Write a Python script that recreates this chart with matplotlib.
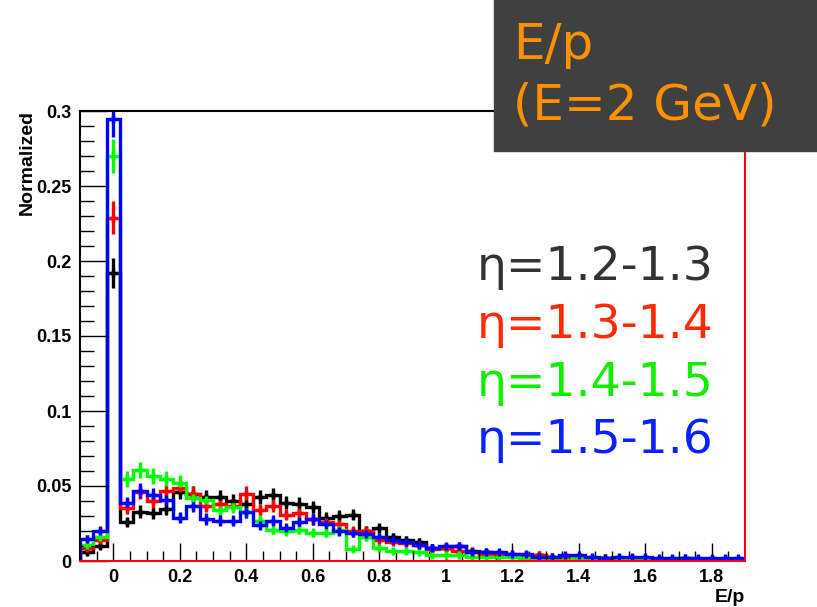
import numpy as np
import matplotlib
matplotlib.use('Agg')
from matplotlib import pyplot as plt
from matplotlib.patches import Rectangle

# bin edges of the E/p histograms (50 bins, -0.1 .. 1.9)
edges = np.linspace(-0.1, 1.9, 51)

black = [0.006, 0.010, 0.192, 0.026, 0.033, 0.032, 0.035, 0.046, 0.045, 0.043,
         0.0425, 0.040, 0.038, 0.0425, 0.044, 0.039, 0.038, 0.036, 0.029, 0.030,
         0.031, 0.020, 0.022, 0.016, 0.014, 0.013, 0.009, 0.009, 0.010, 0.007,
         0.006, 0.005, 0.004, 0.003, 0.004, 0.003, 0.002, 0.003, 0.002, 0.002,
         0.002, 0.002, 0.001, 0.001, 0.001, 0.002, 0.001, 0.001, 0.001, 0.000]

red = [0.009, 0.014, 0.229, 0.0356, 0.046, 0.040, 0.047, 0.0487, 0.045, 0.037,
       0.038, 0.037, 0.045, 0.034, 0.037, 0.031, 0.032, 0.028, 0.026, 0.025,
       0.020, 0.020, 0.014, 0.013, 0.012, 0.011, 0.008, 0.009, 0.007, 0.006,
       0.005, 0.005, 0.005, 0.004, 0.004, 0.002, 0.002, 0.003, 0.002, 0.002,
       0.001, 0.002, 0.001, 0.001, 0.001, 0.001, 0.001, 0.001, 0.001, 0.001]

green = [0.011, 0.016, 0.270, 0.0545, 0.0607, 0.0567, 0.055, 0.052, 0.042, 0.041,
         0.034, 0.036, 0.033, 0.027, 0.021, 0.020, 0.021, 0.019, 0.019, 0.021,
         0.008, 0.016, 0.009, 0.007, 0.007, 0.006, 0.004, 0.004, 0.004, 0.003,
         0.003, 0.003, 0.003, 0.002, 0.001, 0.002, 0.001, 0.002, 0.001, 0.001,
         0.001, 0.001, 0.002, 0.001, 0.001, 0.001, 0.000, 0.001, 0.000, 0.001]

blue = [0.0145, 0.020, 0.2945, 0.0385, 0.047, 0.044, 0.041, 0.029, 0.037, 0.028,
        0.027, 0.027, 0.033, 0.024, 0.027, 0.022, 0.026, 0.028, 0.025, 0.020,
        0.019, 0.018, 0.016, 0.014, 0.013, 0.011, 0.009, 0.010, 0.010, 0.006,
        0.006, 0.006, 0.005, 0.005, 0.003, 0.003, 0.004, 0.004, 0.003, 0.002,
        0.003, 0.003, 0.003, 0.002, 0.002, 0.002, 0.002, 0.002, 0.002, 0.002]

labels = ['\u03b7=1.2-1.3', '\u03b7=1.3-1.4', '\u03b7=1.4-1.5', '\u03b7=1.5-1.6']
n_events = 2000  # per sample, for the statistical error bars

series = [black, red, green, blue]
colours = ['black', '#ff0000', '#00ff00', '#0000ff']
text_colours = ['#333333', '#ff2a00', '#11ee00', '#0a22ff']

centers = 0.5 * (edges[:-1] + edges[1:])

fig = plt.figure(figsize=(8.17, 6.07), dpi=100)
ax = fig.add_axes([80/817, 1-561/607, 665/817, 450/607])

for vals, col in zip(series, colours):
    v = np.array(vals)
    ax.stairs(v, edges, color=col, linewidth=2.4, baseline=0)
    m = v > 0
    ax.errorbar(centers[m], v[m], yerr=np.sqrt(v[m] / n_events), fmt='+',
                color=col, ms=6, mew=2.4, elinewidth=2.4, capsize=0)

ax.set(xlim=(-0.1, 1.9), ylim=(0, 0.3))

ax.spines['top'].set_color('black')
ax.spines['left'].set_color('black')
ax.spines['right'].set_color('#ff0000')
ax.spines['bottom'].set_color('#ff0000')
for s in ax.spines.values():
    s.set_linewidth(1.5)

ax.set_xticks(np.arange(0, 1.81, 0.2))
ax.set_xticklabels(['0', '0.2', '0.4', '0.6', '0.8', '1', '1.2', '1.4', '1.6', '1.8'])
ax.set_xticks(np.arange(-0.05, 1.9, 0.05), minor=True)
ax.set_yticks(np.arange(0, 0.31, 0.05))
ax.set_yticklabels(['0', '0.05', '0.1', '0.15', '0.2', '0.25', '0.3'])
ax.set_yticks(np.arange(0, 0.301, 0.01), minor=True)

ax.tick_params(which='both', direction='in', top=False, right=False, width=1)
ax.tick_params(axis='x', which='major', length=13, pad=6)
ax.tick_params(axis='x', which='minor', length=7)
ax.tick_params(axis='y', which='major', length=20, pad=6)
ax.tick_params(axis='y', which='minor', length=10)
for lab in ax.get_xticklabels() + ax.get_yticklabels():
    lab.set_fontfamily('Liberation Sans')
    lab.set_fontweight('bold')
    lab.set_fontsize(13)

fig.text(27/817, 1-110/607, 'Normalized', rotation=90, ha='center', va='top',
         fontsize=14, fontweight='bold', family='Liberation Sans')
fig.text(745/817, 1-598/607, 'E/p', ha='right', va='center',
         fontsize=14, fontweight='bold', family='Liberation Sans')

# eta labels
for i, (lab, col) in enumerate(zip(labels, text_colours)):
    fig.text(477/817, 1-(268 + 57.5*i)/607, lab, color=col, ha='left',
             va='center', fontsize=34, family='DejaVu Sans')

# title box
fig.patches.append(Rectangle((494/817, 1-151/607), 323/817, 151/607,
                             transform=fig.transFigure, color='#404040',
                             zorder=5))
fig.text(513/817, 1-45/607, 'E/p', color='#ff9100', ha='left', va='center',
         fontsize=36, family='DejaVu Sans', zorder=6)
fig.text(513/817, 1-105/607, '(E=2 GeV)', color='#ff9100', ha='left',
         va='center', fontsize=36, family='DejaVu Sans', zorder=6)

fig.savefig('out.png', dpi=100)
